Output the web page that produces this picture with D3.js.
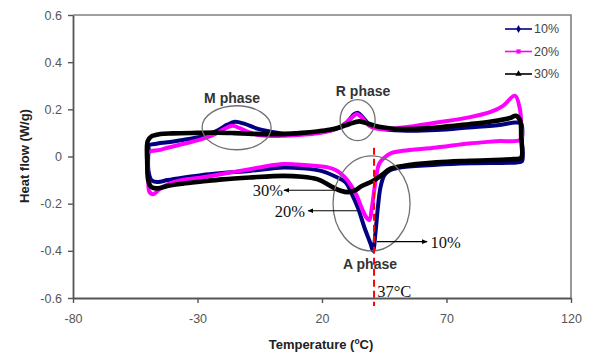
<!DOCTYPE html>
<html>
<head>
<meta charset="utf-8">
<script src="https://cdn.jsdelivr.net/npm/d3@7"></script>
<style>
  body { margin: 0; background: #fff; }
  svg { font-family: "Liberation Sans", Arial, sans-serif; }
</style>
</head>
<body>
<div class="chart"></div>
<script>
// axis ticks
var xTicks = [-80, -30, 20, 70, 120];
var yTicks = [-0.6, -0.4, -0.2, 0, 0.2, 0.4, 0.6];
var yTickLabels = ["-0.6", "-0.4", "-0.2", "0", "0.2", "0.4", "0.6"];

// series names
var seriesNames = ["10%", "20%", "30%"];

// 10% loop (upper branch left->right, then lower branch right->left)
var temp10 = [-50, -46, -42, -35, -28, -22, -18, -15, -11, -6, 0, 5, 12, 20, 26, 30, 33, 34.5, 36.5, 39, 43, 52, 66, 79, 92, 97.5, 100,
  100.3, 100.3,
  98, 80, 66, 52, 47, 45, 43.5, 42.5, 41.5, 40.5, 39.5, 37, 34.5, 32, 29.5, 26, 20, 12, 4.5, -9, -20, -28, -36, -42, -46, -48.5,
  -49.7, -49.8, -49.6];
var flow10 = [0.045, 0.055, 0.06, 0.072, 0.085, 0.11, 0.135, 0.147, 0.138, 0.118, 0.104, 0.096, 0.097, 0.104, 0.118, 0.145, 0.18, 0.185, 0.165, 0.135, 0.12, 0.11, 0.112, 0.123, 0.135, 0.144, 0.14,
  0.06, -0.02,
  -0.025, -0.029, -0.035, -0.046, -0.06, -0.08, -0.13, -0.21, -0.32, -0.4, -0.37, -0.3, -0.22, -0.16, -0.11, -0.088, -0.062, -0.05, -0.047, -0.061, -0.07, -0.078, -0.09, -0.1, -0.108, -0.1,
  -0.06, 0.0, 0.035];

// 20% loop
var temp20 = [-49.8, -45, -41.7, -35, -28.3, -23, -19, -16, -13, -10, -6, 0, 5, 12, 18, 25, 29, 32, 34, 36, 39, 44, 52.5, 66, 79, 88, 92.7, 97.5, 99.5,
  100, 100,
  90, 79, 66, 52.5, 48, 45, 43, 42, 41, 40, 39, 37.9, 36, 34, 31.5, 29.2, 26, 22, 18, 10, 4.5, -3, -9, -18, -28.3, -36, -41.7, -45.5, -47.7, -49.3,
  -49.8, -50];
var flow20 = [0.017, 0.028, 0.038, 0.055, 0.074, 0.095, 0.118, 0.13, 0.12, 0.105, 0.092, 0.087, 0.088, 0.092, 0.098, 0.115, 0.135, 0.165, 0.18, 0.165, 0.13, 0.115, 0.123, 0.144, 0.166, 0.19, 0.215, 0.258, 0.2,
  0.13, 0.074,
  0.065, 0.055, 0.038, 0.024, 0.015, -0.005, -0.03, -0.07, -0.14, -0.22, -0.27, -0.26, -0.22, -0.167, -0.12, -0.089, -0.06, -0.045, -0.04, -0.034, -0.032, -0.042, -0.054, -0.07, -0.089, -0.1, -0.117, -0.14, -0.16, -0.15,
  -0.1, -0.03];

// 30% loop
var temp30 = [-50, -48.5, -45, -40, -30, -22, -15, -8, 0, 4.5, 12, 18, 23, 27, 31, 35, 39, 42, 47, 52.5, 66, 79, 88, 95.5, 97.8, 99.5,
  100, 100,
  97, 79, 66, 52.5, 47, 44.5, 40.6, 36, 33, 30.5, 27.5, 24.5, 21, 18, 12, 4.5, -9, -20, -28.3, -36, -41.7, -46, -48.5,
  -49.8, -50.2, -50.3];
var flow30 = [0.065, 0.085, 0.095, 0.098, 0.1, 0.101, 0.099, 0.096, 0.095, 0.095, 0.1, 0.106, 0.113, 0.123, 0.138, 0.149, 0.138, 0.128, 0.12, 0.116, 0.123, 0.137, 0.148, 0.163, 0.173, 0.155,
  0.08, -0.005,
  -0.011, -0.018, -0.025, -0.04, -0.054, -0.075, -0.103, -0.125, -0.145, -0.151, -0.145, -0.131, -0.11, -0.096, -0.086, -0.082, -0.089, -0.097, -0.106, -0.115, -0.124, -0.135, -0.13,
  -0.1, -0.02, 0.04];

var seriesColors = ["#000080", "#ff00ff", "#000000"];

var svgWidth = 590, svgHeight = 356;
var margin = { top: 15, right: 19, bottom: 58, left: 73 };
var width = svgWidth - margin.left - margin.right;
var height = svgHeight - margin.top - margin.bottom;

var svg = d3.select(".chart").append("svg")
  .attr("width", svgWidth)
  .attr("height", svgHeight);

var chartGroup = svg.append("g")
  .attr("transform", `translate(${margin.left}, ${margin.top})`);

var x = d3.scaleLinear().domain([-80, 120]).range([0, width]);
var y = d3.scaleLinear().domain([-0.6, 0.6]).range([height, 0]);

// plot border (top / right)
chartGroup.append("path")
  .attr("d", `M0,0H${width}V${height}`)
  .attr("fill", "none")
  .attr("stroke", "#808080")
  .attr("stroke-width", 1.6);

// axes
var xAxis = d3.axisBottom(x).tickValues(xTicks).tickSize(5).tickSizeOuter(0).tickFormat(d => d);
var yAxis = d3.axisLeft(y).tickValues(yTicks).tickSize(5).tickSizeOuter(0)
  .tickFormat((d, i) => yTickLabels[i]);

var gx = chartGroup.append("g").attr("transform", `translate(0, ${height})`).call(xAxis);
var gy = chartGroup.append("g").call(yAxis);

[gx, gy].forEach(function(g) {
  g.select(".domain").attr("stroke", "#555").attr("stroke-width", 1.8);
  g.selectAll(".tick line").attr("stroke", "#555").attr("stroke-width", 1.4);
  g.selectAll(".tick text").attr("fill", "#555").attr("font-size", 12.5);
});
gx.selectAll(".tick text").attr("dy", "1.35em");
gy.selectAll(".tick text").attr("dx", "-0.25em");

// axis titles
svg.append("text")
  .attr("transform", "translate(29, 156) rotate(-90)")
  .attr("text-anchor", "middle")
  .attr("font-size", 13)
  .attr("font-weight", "bold")
  .attr("fill", "#222")
  .text("Heat flow (W/g)");

var xt = svg.append("text")
  .attr("x", 321)
  .attr("y", 349)
  .attr("text-anchor", "middle")
  .attr("font-size", 13)
  .attr("font-weight", "bold")
  .attr("fill", "#222");
xt.append("tspan").text("Temperature (");
xt.append("tspan").attr("font-size", 8.5).attr("dy", -5).text("o");
xt.append("tspan").attr("dy", 5).text("C)");

// series lines
var line = d3.line()
  .x(d => x(d[0]))
  .y(d => y(d[1]))
  .curve(d3.curveCatmullRomClosed.alpha(0.5));

var loops = [
  d3.zip(temp10, flow10),
  d3.zip(temp20, flow20),
  d3.zip(temp30, flow30)
];

loops.forEach(function(pts, i) {
  chartGroup.append("path")
    .datum(pts)
    .attr("d", line)
    .attr("fill", "none")
    .attr("stroke", seriesColors[i])
    .attr("stroke-width", i == 2 ? 4.6 : 4)
    .attr("stroke-linejoin", "round");
});

// phase ellipses
var ellipses = [
  { t: -14.3, v: 0.122, rx: 34.5, ry: 22 },
  { t: 34.3, v: 0.154, rx: 17.5, ry: 20.5 },
  { t: 39.9, v: -0.199, rx: 38.5, ry: 47.5 }
];
chartGroup.selectAll("ellipse")
  .data(ellipses)
  .enter()
  .append("ellipse")
  .attr("cx", d => x(d.t))
  .attr("cy", d => y(d.v))
  .attr("rx", d => d.rx)
  .attr("ry", d => d.ry)
  .attr("fill", "none")
  .attr("stroke", "#707070")
  .attr("stroke-width", 1.3);

// phase labels
var phaseLabels = [
  { t: -16.1, v: 0.228, text: "M phase" },
  { t: 36.5, v: 0.258, text: "R phase" },
  { t: 39.3, v: -0.477, text: "A phase" }
];
chartGroup.selectAll(".phase")
  .data(phaseLabels)
  .enter()
  .append("text")
  .attr("class", "phase")
  .attr("x", d => x(d.t))
  .attr("y", d => y(d.v))
  .attr("text-anchor", "middle")
  .attr("font-size", 14)
  .attr("font-weight", "bold")
  .attr("fill", "#333")
  .text(d => d.text);

// 37C dashed line
var markTemp = 40.9;
chartGroup.append("line")
  .attr("x1", x(markTemp)).attr("x2", x(markTemp))
  .attr("y1", y(0.037)).attr("y2", y(-0.634))
  .attr("stroke", "#ff0000")
  .attr("stroke-width", 2)
  .attr("stroke-dasharray", "7,4");

chartGroup.append("text")
  .attr("x", x(42.2))
  .attr("y", y(-0.596))
  .attr("font-family", "Liberation Serif, Times New Roman, serif")
  .attr("font-size", 16.5)
  .attr("fill", "#111")
  .text("37°C");

// arrows
svg.append("defs").append("marker")
  .attr("id", "arr")
  .attr("viewBox", "0 0 10 10")
  .attr("refX", 9).attr("refY", 5)
  .attr("markerWidth", 6).attr("markerHeight", 6)
  .attr("markerUnits", "userSpaceOnUse")
  .attr("orient", "auto")
  .append("path")
  .attr("d", "M0,1L10,5L0,9Z")
  .attr("fill", "#000");

var arrows = [
  { t1: 27.2, t2: 4.7, v: -0.143, label: "30%", lt: 4.3, lv: -0.169, anchor: "end" },
  { t1: 34.5, t2: 14.4, v: -0.23, label: "20%", lt: 13.2, lv: -0.258, anchor: "end" },
  { t1: 42.1, t2: 62.2, v: -0.361, label: "10%", lt: 63.6, lv: -0.388, anchor: "start" }
];
arrows.forEach(function(a) {
  chartGroup.append("line")
    .attr("x1", x(a.t1)).attr("x2", x(a.t2))
    .attr("y1", y(a.v)).attr("y2", y(a.v))
    .attr("stroke", "#000")
    .attr("stroke-width", 1.1)
    .attr("marker-end", "url(#arr)");
  chartGroup.append("text")
    .attr("x", x(a.lt))
    .attr("y", y(a.lv))
    .attr("text-anchor", a.anchor)
    .attr("font-family", "Liberation Serif, Times New Roman, serif")
    .attr("font-size", 16.5)
    .attr("fill", "#111")
    .text(a.label);
});

// legend
var legend = svg.append("g").attr("transform", "translate(505, 29)");
var symbols = [d3.symbolDiamond, d3.symbolSquare, d3.symbolTriangle];
seriesNames.forEach(function(name, i) {
  var row = legend.append("g").attr("transform", `translate(0, ${i * 22.5})`);
  row.append("line")
    .attr("x1", 0).attr("x2", 27)
    .attr("stroke", seriesColors[i])
    .attr("stroke-width", 1.6);
  row.append("path")
    .attr("transform", "translate(13.5, 0)")
    .attr("d", d3.symbol().type(symbols[i]).size(18))
    .attr("fill", seriesColors[i]);
  row.append("text")
    .attr("x", 29)
    .attr("dy", "0.35em")
    .attr("font-size", 12.5)
    .attr("fill", "#444")
    .text(name);
});
</script>
</body>
</html>
